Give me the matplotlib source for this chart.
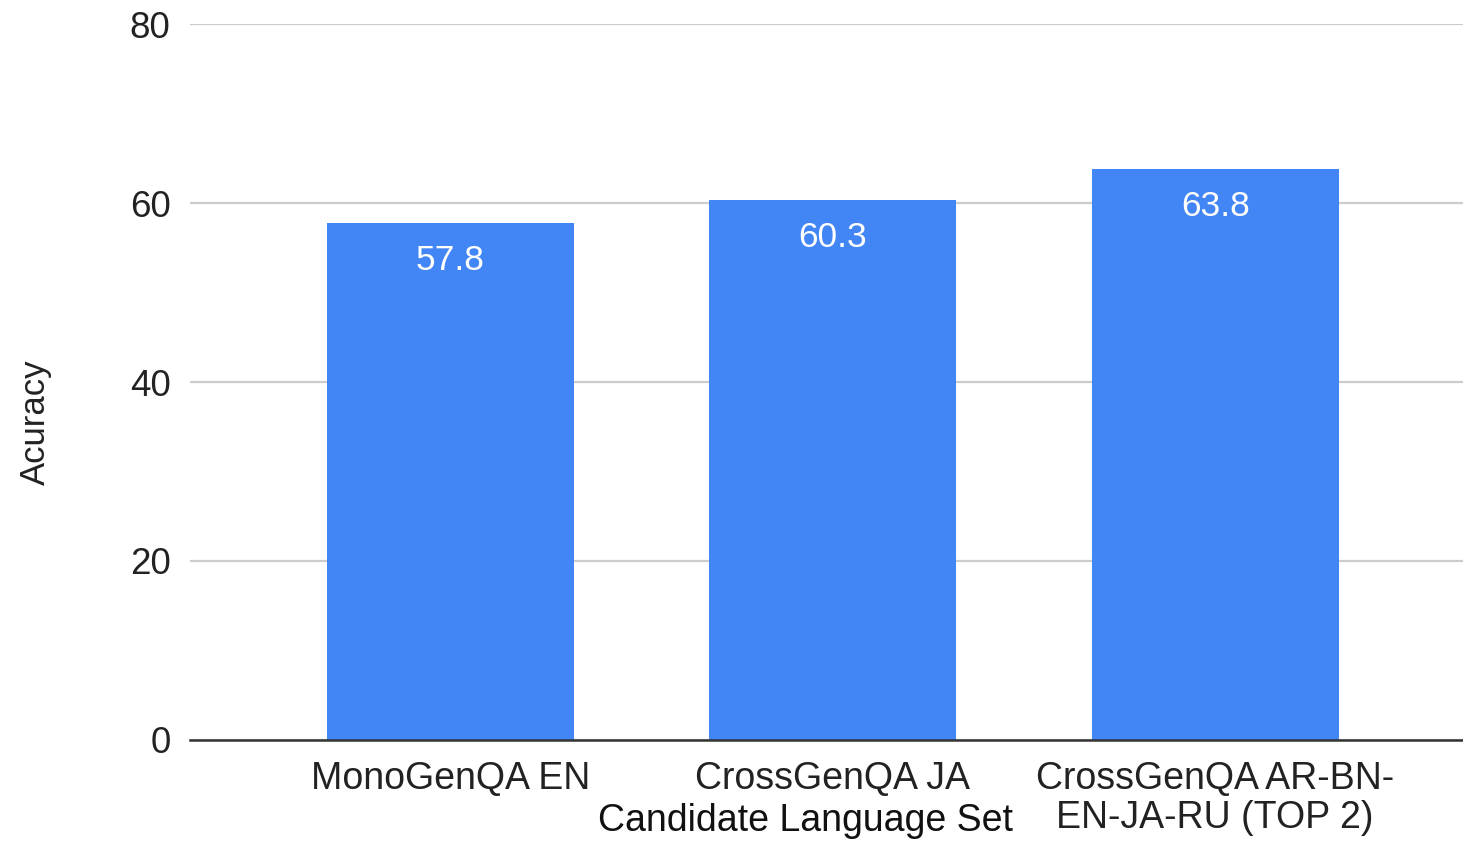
import matplotlib
matplotlib.use("Agg")
import matplotlib.pyplot as plt
import numpy as np

plt.rcParams["font.family"] = ["Liberation Sans", "DejaVu Sans"]

# Accuracy per candidate language set
categories = ["MonoGenQA EN", "CrossGenQA JA", "CrossGenQA AR-BN-\nEN-JA-RU (TOP 2)"]
accuracy = [57.8, 60.3, 63.8]
y_ticks = [0, 20, 40, 60, 80]

BAR_BLUE = "#4285F4"

fig = plt.figure(figsize=(14.63, 8.43), dpi=100)
ax = fig.add_axes([0.1299, 0.1222, 0.8701, 0.8493])

x = np.arange(len(categories))
bars = ax.bar(x, accuracy, width=0.646, color=BAR_BLUE, zorder=2)

for b, v in zip(bars, accuracy):
    ax.annotate(f"{v:.1f}", (b.get_x() + b.get_width() / 2, v),
                xytext=(0, -27), textcoords="offset points",
                ha="center", va="center", color="white", fontsize=25.5)

ax.set_xlim(-0.68, 2.648)
ax.set_ylim(0, 80)
ax.set_yticks(y_ticks)
ax.set_xticks(x)
ax.set_xticklabels(categories, linespacing=1.1)
ax.tick_params(axis="y", length=0, pad=14, labelsize=26.5, labelcolor="#222222")
ax.tick_params(axis="x", length=0, pad=15, labelsize=27, labelcolor="#222222")

ax.grid(axis="y", color="#cccccc", linewidth=1.6, zorder=0)
ax.set_axisbelow(True)
for side in ["top", "right", "left"]:
    ax.spines[side].set_visible(False)
ax.spines["bottom"].set_color("#333333")
ax.spines["bottom"].set_linewidth(1.8)
ax.spines["bottom"].set_zorder(3)

fig.text(35 / 1463, 1 - 422 / 843, "Acuracy", rotation=90,
         ha="center", va="center", fontsize=25, color="#222222")
fig.text(806 / 1463, 1 - 821 / 843, "Candidate Language Set",
         ha="center", va="center", fontsize=27, color="#111111")

fig.savefig("out.png", dpi=100)
